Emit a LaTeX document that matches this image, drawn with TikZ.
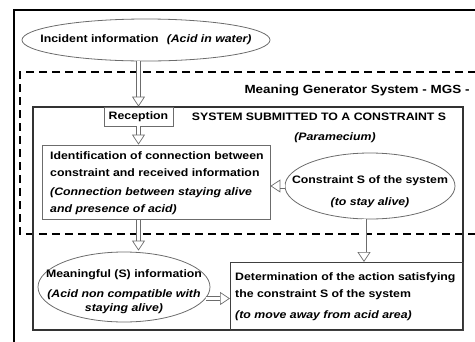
\documentclass[tikz,border=0pt]{standalone}
\usepackage{fontspec}
\setmainfont{Liberation Sans}[FakeStretch=1.14]
\usetikzlibrary{arrows.meta,shapes.geometric,calc}
\newcommand\txtf{\fontsize{10.8}{17}\selectfont\bfseries}
\tikzset{
  every node/.style={font=\txtf, text=black},
  gbox/.style={draw=gray!85!black, line width=0.8pt, rectangle, inner sep=0pt},
  gell/.style={draw=gray!85!black, line width=0.8pt, ellipse, inner sep=0pt},
  hollow/.style={draw=gray!85!black, line width=0.7pt, double=white, double distance=3.6pt,
     -{Triangle[open, length=10pt, width=13pt, line width=0.7pt]}},
  lbl/.style={inner sep=0pt}
}
\begin{document}
\begin{tikzpicture}[x=1pt,y=-1pt]
\useasboundingbox (0,0) rectangle (475,341);
% outer frame
\draw[line width=1.2pt] (14,342) -- (14,10) -- (476,10);
% dashed MGS frame
\draw[line width=1.3pt, dash pattern=on 8pt off 5pt] (476,72) -- (20,72) -- (20,234) -- (476,234);
% system rectangle
\draw[line width=1.5pt, draw=black!80] (33,107) rectangle (463,330);
% determination box
\node[gbox, draw=black!75, minimum width=233pt, minimum height=68pt, anchor=north west] (determ) at (230,262) {};
\node[lbl, anchor=north west, align=left] (determt) at (235,272) {Determination of the action satisfying\\the constraint S of the system\\[4pt]\textit{(to move away from acid area)}};
% incident ellipse
\node[gell, minimum width=248pt, minimum height=42pt] (incident) at (146,40) {};
\node[lbl] (incidentt) at (incident.center) {Incident information\hspace{8pt}\textit{(Acid in water)}};
% MGS label
\node[lbl, font=\fontsize{11.8}{14}\selectfont\bfseries] (mgs) at (357,90) {Meaning Generator System - MGS -};
% reception
\node[gbox, minimum width=69pt, minimum height=19pt] (reception) at (138.5,116.5) {Reception};
\node[lbl] (system) at (319,117) {SYSTEM SUBMITTED TO A CONSTRAINT S};
\node[lbl] (param) at (335,138) {\textit{(Paramecium)}};
% identification box
\node[gbox, minimum width=228pt, minimum height=74pt] (ident) at (156,182) {};
\node[lbl, anchor=north west, align=left] (identt) at (50,151) {Identification of connection between\\constraint and received information\\[2pt]\textit{(Connection between staying alive}\\\textit{and presence of acid)}};
% constraint ellipse
\node[gell, minimum width=170pt, minimum height=66pt] (constraint) at (370,186) {};
\node[lbl, align=center] (constraintt) at (370,192) {Constraint S of the system\\[5pt]\textit{(to stay alive)}};
% meaningful ellipse
\node[gell, minimum width=172pt, minimum height=70pt] (meaning) at (124,287) {};
\node[lbl, align=center] (meaningt) at (124,292) {Meaningful (S) information\\[3pt]\textit{(Acid non compatible with}\\[-3pt]\textit{staying alive)}};
% arrows
\draw[hollow] (reception.north |- incident.south) -- (reception.north);
\draw[hollow] (reception.south) -- (reception.south |- ident.north);
\draw[hollow] (constraint.west) -- (constraint.west -| ident.east);
\draw[hollow] ([yshift=-1pt]reception.south |- ident.south) -- ($(reception.south |- meaning.north)+(0,-1)$);
\draw[hollow] ([xshift=-6pt]constraint.south) -- ([xshift=-6pt]constraint.south |- determ.north);
\draw[hollow] (meaning.-8) -- (meaning.-8 -| determ.west);
\end{tikzpicture}
\end{document}
